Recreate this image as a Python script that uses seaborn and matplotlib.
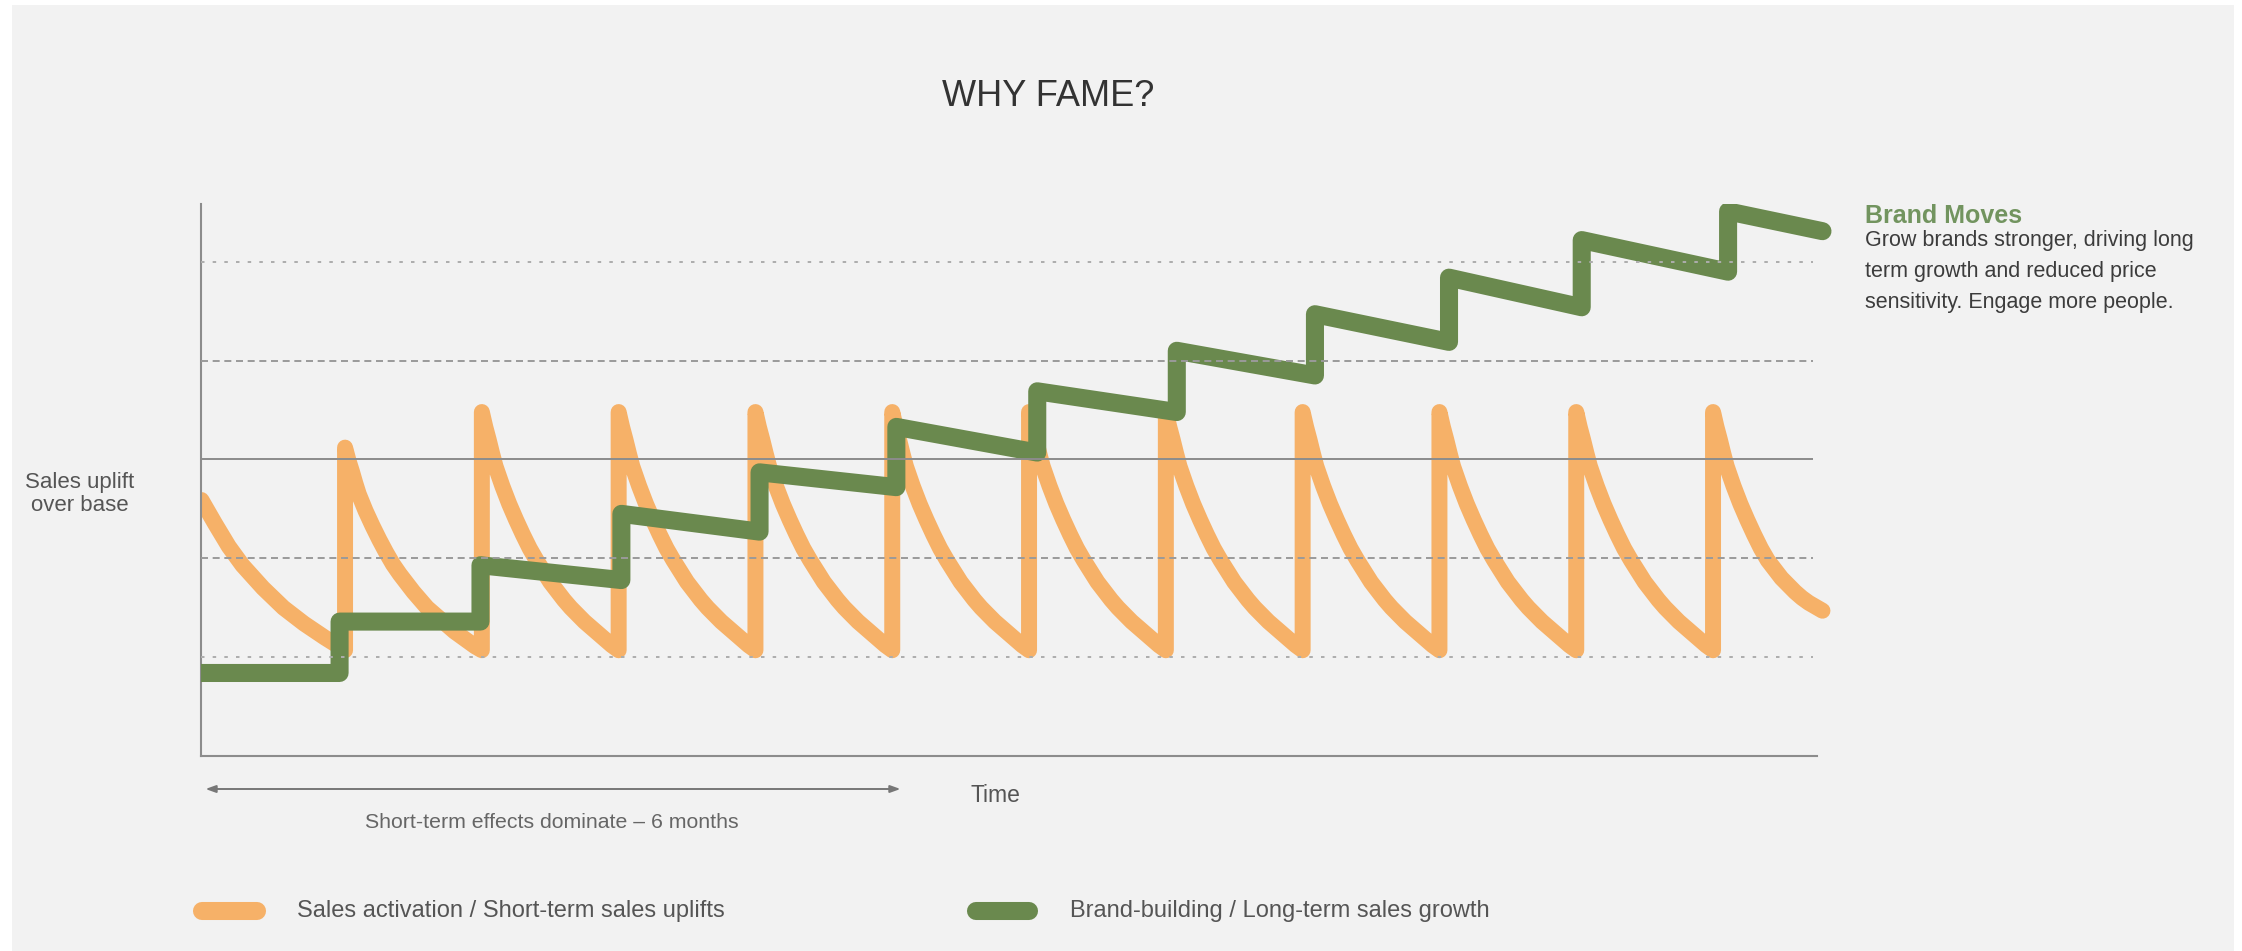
import matplotlib
matplotlib.use("Agg")
import matplotlib.pyplot as plt
import seaborn as sns
import pandas as pd
from matplotlib.patches import Rectangle
from matplotlib.lines import Line2D
import matplotlib.transforms as mtransforms

# ---------------- data ----------------
title = "WHY FAME?"
y_label = "Sales uplift\nover base"
x_label = "Time"
span_label = "Short-term effects dominate \u2013 6 months"
legend_labels = ["Sales activation / Short-term sales uplifts",
                 "Brand-building / Long-term sales growth"]
note_title = "Brand Moves"
note_lines = ["Grow brands stronger, driving long",
              "term growth and reduced price",
              "sensitivity. Engage more people."]

# Sales activation (orange): opening decay, then one pulse per period
activation_start_x = [-0.05, 0.05, 0.15, 0.25, 0.40, 0.55, 0.70, 0.85, 1.00]
activation_start_y = [2.59, 2.35, 2.12, 1.93, 1.70, 1.50, 1.34, 1.20, 1.07]
pulse_x = [1, 2, 3, 4, 5, 6, 7, 8, 9, 10, 11]
decay_t = [0.0, 0.025, 0.05, 0.075, 0.10, 0.15, 0.20, 0.25, 0.30, 0.35, 0.40,
           0.45, 0.50, 0.55, 0.60, 0.65, 0.70, 0.75, 0.80, 0.85, 0.90, 0.95, 1.00]
decay_first = [3.12, 2.99, 2.88, 2.76, 2.65, 2.48, 2.33, 2.19, 2.06, 1.94, 1.84,
               1.75, 1.66, 1.58, 1.50, 1.44, 1.38, 1.32, 1.26, 1.21, 1.16, 1.11, 1.07]
decay_main = [3.48, 3.33, 3.20, 3.06, 2.93, 2.73, 2.55, 2.39, 2.24, 2.10, 1.98,
              1.87, 1.76, 1.67, 1.58, 1.50, 1.43, 1.36, 1.30, 1.24, 1.18, 1.12, 1.07]
decay_last = [3.48, 3.33, 3.20, 3.06, 2.93, 2.73, 2.55, 2.39, 2.24, 2.10, 1.98,
              1.89, 1.80, 1.73, 1.66, 1.60, 1.55, 1.51, 1.47]

# Brand building (green): stepped, slowly sagging levels
brand_start_x = -0.05
brand_end_x = 11.80
brand_jump_x = [0.96, 1.99, 3.02, 4.03, 5.03, 6.06, 7.08, 8.09, 9.07, 10.04, 11.11]
brand_seg_start = [0.84, 1.36, 1.93, 2.45, 2.87, 3.33, 3.69, 4.10, 4.47, 4.84, 5.22, 5.51]
brand_seg_end = [0.84, 1.36, 1.78, 2.27, 2.72, 3.07, 3.48, 3.85, 4.19, 4.54, 4.90, 5.31]

grid_levels = [1, 2, 3, 4, 5]
span_x = [-0.02, 5.06]

# ---------------- build series ----------------
ox, oy = list(activation_start_x), list(activation_start_y)
for i, p in enumerate(pulse_x):
    if i == 0:
        prof = decay_first
    elif i == len(pulse_x) - 1:
        prof = decay_last
    else:
        prof = decay_main
    for t, v in zip(decay_t, prof):
        ox.append(p + t)
        oy.append(v)
activation = pd.DataFrame({"time": ox, "uplift": oy})

bx, by = [], []
edges = [brand_start_x] + brand_jump_x + [brand_end_x]
for k in range(len(brand_seg_start)):
    bx += [edges[k], edges[k + 1]]
    by += [brand_seg_start[k], brand_seg_end[k]]
brand = pd.DataFrame({"time": bx, "uplift": by})

# ---------------- style ----------------
W, H = 2242, 951
sns.set_theme(style="white")
plt.rcParams["font.family"] = ["Liberation Sans", "DejaVu Sans"]

ORANGE = "#F6B168"
GREEN = "#6A894E"
GREEN_TXT = "#72945F"
BG = "#F2F2F2"
AXC = "#8C8C8C"

fig = plt.figure(figsize=(W / 100, H / 100), dpi=100, facecolor="white")
fig.add_artist(Rectangle((12 / W, 0), (2234 - 12) / W, 1 - 5 / H,
                         transform=fig.transFigure, facecolor=BG,
                         edgecolor="none", zorder=0))


def fx(px):
    return px / W


def fy(py):
    return 1 - py / H


ax_left, ax_right, ax_top, ax_bot = 201, 1843, 204, 756
ax = fig.add_axes([fx(ax_left), fy(ax_bot), (ax_right - ax_left) / W,
                   (ax_bot - ax_top) / H])
ax.set_facecolor("none")
ax.set_xlim(-0.053, 11.95)
ax.set_ylim(0, 5.585)

sns.lineplot(data=activation, x="time", y="uplift", ax=ax, estimator=None,
             sort=False, color=ORANGE, linewidth=11.5,
             solid_joinstyle="round", solid_capstyle="round", zorder=2)
sns.lineplot(data=brand, x="time", y="uplift", ax=ax, estimator=None,
             sort=False, color=GREEN, linewidth=13,
             solid_joinstyle="round", solid_capstyle="round", zorder=3)

grid_style = {1: ("#ADADAD", (0, (1.8, 4.2))), 2: ("#9A9A9A", (0, (3.6, 2.4))),
              3: ("#8C8C8C", "-"), 4: ("#9A9A9A", (0, (3.6, 2.4))),
              5: ("#ADADAD", (0, (1.8, 4.2)))}
for lvl in grid_levels:
    c, ls = grid_style[lvl]
    ax.hlines(lvl, -0.053, 11.73, colors=c, linestyles=ls, linewidth=1.4,
              zorder=4)

for s in ["top", "right"]:
    ax.spines[s].set_visible(False)
for s in ["left", "bottom"]:
    ax.spines[s].set_color(AXC)
    ax.spines[s].set_linewidth(1.5)
ax.spines["bottom"].set_bounds(-0.053, 11.76)
ax.set_xticks([])
ax.set_yticks([])

ax.set_xlabel(x_label, fontsize=16.5, color="#555555")
ax.xaxis.set_label_coords((995 - ax_left) / (ax_right - ax_left),
                          (ax_bot - 795) / (ax_bot - ax_top))
ax.xaxis.label.set_va("center")
ax.set_ylabel(y_label, fontsize=16, color="#555555", rotation=0,
              ha="center", va="center", linespacing=1.15)
ax.yaxis.set_label_coords((80 - ax_left) / (ax_right - ax_left),
                          (ax_bot - 494) / (ax_bot - ax_top))

# span arrow
trans = mtransforms.blended_transform_factory(ax.transData, ax.transAxes)
yarr = (ax_bot - 789) / (ax_bot - ax_top)
ax.annotate("", xy=(span_x[1], yarr), xytext=(span_x[0], yarr),
            xycoords=trans, textcoords=trans, annotation_clip=False,
            arrowprops=dict(arrowstyle="<|-|>,head_length=0.5,head_width=0.18",
                            color="#777777", lw=1.4, shrinkA=0, shrinkB=0))
fig.text(fx(552), fy(822), span_label, ha="center", va="center",
         fontsize=15.3, color="#666666")

# title
fig.text(fx(1048), fy(97), title, ha="center", va="center", fontsize=26,
         color="#333333")

# right note
fig.text(fx(1865), fy(223), note_title, ha="left", va="baseline",
         fontsize=18, fontweight="bold", color=GREEN_TXT)
for i, line in enumerate(note_lines):
    fig.text(fx(1865), fy(246 + 31 * i), line, ha="left", va="baseline",
             fontsize=15.5, color="#3C3C3C")

# legend
for (x0, x1, tx), col, lab in zip([(202, 257, 297), (976, 1029, 1070)],
                                  [ORANGE, GREEN], legend_labels):
    fig.add_artist(Line2D([fx(x0), fx(x1)], [fy(911), fy(911)],
                          transform=fig.transFigure, color=col, lw=13,
                          solid_capstyle="round"))
    fig.text(fx(tx), fy(911), lab, ha="left", va="center", fontsize=17,
             color="#555555")

fig.savefig("out.png", dpi=100, facecolor="white")
